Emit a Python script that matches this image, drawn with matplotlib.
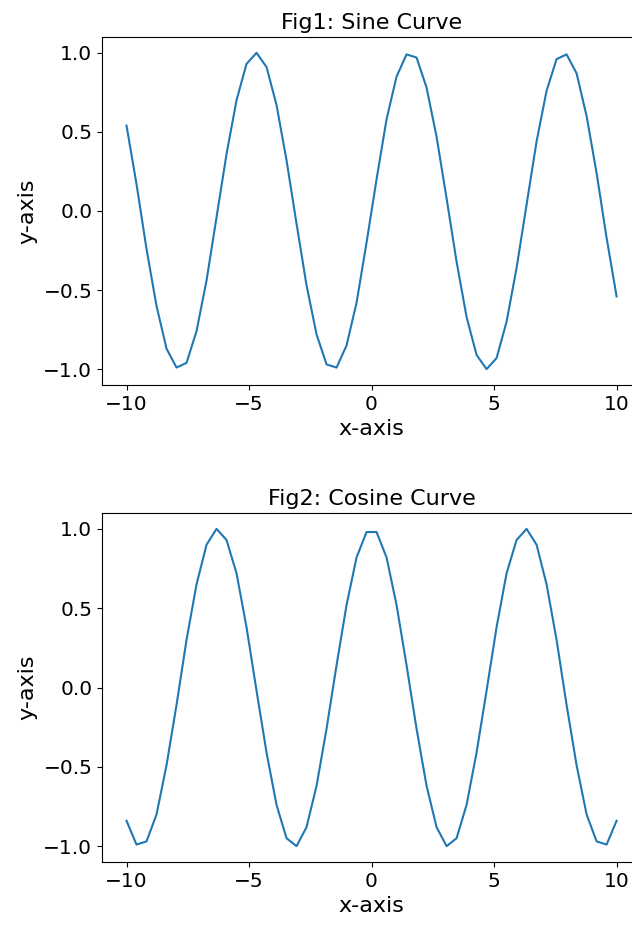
import matplotlib
matplotlib.use("Agg")
import matplotlib.pyplot as plt
import numpy as np

# x sample positions read from the kinks: 50 evenly spaced points from -10 to 10
x_start, x_stop, n_points = -10, 10, 50

# sine values
sine_left = [0.54, 0.17, -0.24, -0.60, -0.87, -0.99, -0.96, -0.76, -0.44, -0.04,
             0.36, 0.70, 0.93, 1.00, 0.91, 0.67, 0.32, -0.08, -0.47, -0.78,
             -0.97, -0.99, -0.85, -0.58, -0.20]
sine_right = [0.20, 0.58, 0.85, 0.99, 0.97, 0.78, 0.47, 0.08, -0.32, -0.67,
              -0.91, -1.00, -0.93, -0.70, -0.36, 0.04, 0.44, 0.76, 0.96, 0.99,
              0.87, 0.60, 0.24, -0.17, -0.54]

# cosine values (symmetric about x = 0)
cosine_left = [-0.84, -0.99, -0.97, -0.80, -0.49, -0.11, 0.30, 0.65, 0.90, 1.00,
               0.93, 0.72, 0.38, -0.02, -0.41, -0.74, -0.95, -1.00, -0.88, -0.62,
               -0.26, 0.14, 0.52, 0.82, 0.98]
cosine_right = cosine_left[::-1]

sine_vals = sine_left + sine_right
cosine_vals = cosine_left + cosine_right
x = np.linspace(x_start, x_stop, n_points)

fig = plt.figure(figsize=(6.32, 9.27), dpi=100)
# right spine sits just past the image edge in the reference
ax1 = fig.add_axes([0.1614, 0.5847, 0.853, 0.3754])
ax2 = fig.add_axes([0.1614, 0.0701, 0.853, 0.3765])

panels = [
    (ax1, sine_vals, "Fig1: Sine Curve"),
    (ax2, cosine_vals, "Fig2: Cosine Curve"),
]
for ax, vals, title in panels:
    ax.plot(x, vals, color="#1f77b4", linewidth=1.5)
    ax.set_title(title, fontsize=16)
    ax.set_xlabel("x-axis", fontsize=16)
    ax.set_ylabel("y-axis", fontsize=16)
    ax.set_xticks([-10, -5, 0, 5, 10])
    ax.set_yticks([-1.0, -0.5, 0.0, 0.5, 1.0])
    ax.tick_params(labelsize=14.5)

fig.savefig("out.png", dpi=100)
